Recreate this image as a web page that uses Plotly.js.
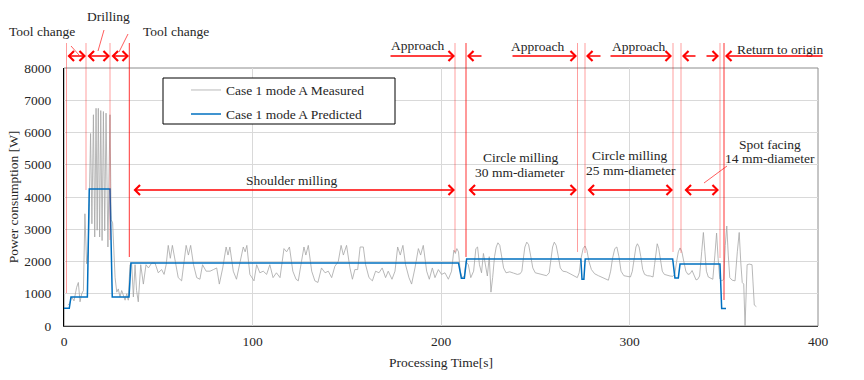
<!DOCTYPE html>
<html><head><meta charset="utf-8">
<script src="https://cdn.plot.ly/plotly-3.0.1.min.js"></script>
<style>html,body{margin:0;padding:0;background:#fff}#chart{width:864px;height:380px}
#chart text{font-family:'Liberation Serif', serif !important;}</style>
</head><body><div id="chart"></div>
<script>
// ---------------- DATA ----------------
const seriesNames = ['Case 1 mode A Measured', 'Case 1 mode A Predicted'];
const xTickValues = [0, 100, 200, 300, 400];
const yTickValues = [0, 1000, 2000, 3000, 4000, 5000, 6000, 7000, 8000];

const measuredTime = [
  2.0, 3.0, 4.1, 5.3, 6.7, 7.6, 8.5, 9.4, 10.3, 11.1, 12.0, 12.8, 13.4, 14.1, 14.8, 15.6, 16.3, 17.0, 17.6, 18.2,
  18.9, 19.5, 20.2, 20.9, 21.6, 22.3, 23.3, 24.4, 25.0, 25.8, 27.1, 28.0, 28.8, 29.7, 30.6, 31.5, 32.4, 33.3, 34.1,
  35.0, 35.9, 36.8, 37.7, 38.5, 39.4, 40.7, 42.1, 43.5, 44.8, 46.5, 48.3, 50.0, 51.8, 53.1, 54.2, 55.3, 56.4, 57.5,
  58.9, 60.6, 62.4, 63.6, 64.8, 66.0, 67.2, 68.7, 70.4, 72.1, 73.5, 75.4, 77.5, 79.3, 81.0, 82.4, 84.2, 86.0, 87.0,
  88.0, 89.8, 91.5, 93.3, 95.1, 96.1, 97.0, 98.6, 100.8, 102.2, 103.9, 105.7, 107.5, 109.2, 110.9, 112.7, 114.6,
  116.7, 118.1, 119.6, 121.4, 123.1, 124.3, 125.7, 127.3, 128.3, 129.6, 131.4, 133.1, 134.7, 136.6, 138.5, 140.2,
  142.0, 143.7, 145.5, 147.0, 148.2, 149.9, 151.7, 153.0, 154.3, 155.8, 157.1, 158.8, 160.0, 161.8, 163.6, 165.3,
  167.1, 168.8, 170.6, 172.0, 174.0, 175.6, 177.0, 178.4, 179.8, 181.2, 183.0, 184.4, 186.2, 188.0, 189.2, 190.6,
  192.4, 193.8, 195.4, 196.8, 198.6, 200.3, 202.1, 203.9, 205.6, 206.8, 207.6, 208.4, 209.3, 210.2, 211.2,
  212.4, 213.2, 214.5, 215.8, 217.3, 218.5, 219.4, 220.4, 221.5, 222.5, 223.5, 224.6, 225.6, 226.5, 227.4, 228.4,
  229.3, 230.2, 231.2, 232.2, 233.2, 234.5, 236.5, 238.5, 240.5, 242.0, 242.9, 243.7, 244.5, 245.5, 246.5, 247.5,
  248.7, 250.0, 252.0, 254.0, 256.0, 257.4, 258.3, 259.2, 260.1, 261.1, 262.1, 263.3, 264.6, 266.5, 268.5, 270.5,
  272.3, 273.3, 274.3, 275.4, 276.4, 277.4, 278.5, 279.8, 281.5, 283.5, 285.5, 287.5, 288.8, 290.0, 291.0, 292.2,
  293.3, 294.4, 295.5, 297.0, 299.0, 300.5, 301.5, 302.5, 303.4, 304.2, 305.1, 306.0, 307.0, 308.0, 309.5, 311.0,
  312.5, 313.3, 314.0, 314.7, 315.5, 316.4, 317.4, 318.5, 320.0, 321.5, 323.0, 324.0, 325.0, 325.9, 326.8, 327.8,
  328.8, 329.9, 331.0, 332.1, 333.2, 334.2, 335.3, 336.2, 337.2, 338.3, 339.2, 340.0, 340.8, 341.8, 343.0, 344.2,
  345.3, 346.2, 347.0, 347.9, 349.0, 350.0, 350.8, 351.6, 352.4, 353.2, 354.5, 356.0, 357.2, 358.2, 359.0, 359.8,
  360.6, 361.3, 362.4, 363.5, 365.0, 366.2, 367.3
];
const measuredPower = [
  650, 700, 900, 780, 1200, 1350, 750, 1000, 1100, 3480, 1930, 2300, 3800, 5970, 3170, 6550, 2760, 6750, 2970, 6750,
  2760, 6680, 2650, 6650, 2950, 6600, 2450, 6550, 3300, 3200, 1500, 1050, 1150, 900, 1100, 950, 800, 1000, 800,
  1900, 1950, 900, 1900, 1100, 750, 1900, 1300, 1900, 1800, 1950, 1950, 1650, 1750, 1600, 1900, 2500, 2100, 2500,
  2000, 1500, 1400, 1900, 2500, 2200, 2500, 1900, 1500, 1450, 1900, 1700, 1700, 1750, 1800, 1300, 1800, 2450, 2200,
  2450, 1700, 1450, 1900, 2450, 2300, 2500, 1600, 1400, 1900, 1650, 1700, 1600, 1900, 1500, 1650, 1500,
  2400, 2300, 2450, 1700, 1450, 1400, 1900, 2450, 2200, 2500, 1700, 1400, 1350, 1800, 1650, 1700,
  1500, 1850, 2000, 2500, 2200, 2500, 1800, 1450, 1750, 1750, 2450, 2450, 1900, 1500, 1400, 1700,
  1650, 1800, 1500, 1700, 1450, 1700, 2450, 2200, 2500, 1900, 1500, 1300, 1800, 2400, 2200, 2500,
  1700, 1450, 1800, 1500, 1750, 1600, 1650, 1450, 1700, 2350, 2250, 2400, 2300, 1700, 1500,
  1550, 2000, 1900, 1500, 1700, 2400, 2450, 1900, 1650, 2250, 1950, 1550, 2150, 1050, 1500, 2150,
  2450, 2580, 2500, 2200, 1800, 1650, 1680, 1640, 1600, 1620, 1700, 2100, 2450, 2600, 2520, 2200,
  1800, 1650, 1620, 1580, 1560, 1650, 2100, 2450, 2600, 2500, 2200, 1800, 1700, 1680, 1620, 1550,
  1500, 1650, 2100, 2400, 2480, 2350, 2000, 1750, 1620, 1560, 1500, 1450, 1420, 1700, 2100, 2400,
  2450, 2150, 1700, 1560, 1540, 1520, 1700, 2150, 2450, 2550, 2450, 2150, 1750, 1600, 1560, 1550,
  1520, 1900, 2350, 2550, 2400, 2050, 1700, 1600, 1570, 1550, 1540, 1600, 2000, 2300, 2420, 2300,
  2000, 1700, 1600, 1620, 1720, 1550, 1430, 1450, 1550, 2300, 2900, 2300, 1700, 1520, 1480, 1450,
  2200, 2880, 2100, 1460, 1400, 1450, 2500, 3100, 2200, 1500, 1420, 1400, 2300, 2900, 2000, 1350,
  1300, 0, 1900, 1920, 1900, 650, 600
];

const predictedTime = [0, 2.8, 3.7, 12.4, 13.4, 24.4, 25.6, 34.5, 35.5, 209.3, 210.8, 212.4, 213.6,
  274.2, 274.8, 275.8, 276.5, 322.9, 324.1, 325.9, 326.8, 348.0, 348.9, 351.2];
const predictedPower = [550, 550, 900, 900, 4250, 4250, 900, 900, 1950, 1950, 1480, 1480, 2080,
  2080, 1450, 1450, 2080, 2080, 1490, 1490, 1920, 1920, 540, 540];

// ---------------- LAYOUT HELPERS ----------------
const FONT = 'Liberation Serif';
const TXT = '#262626';
const mkFont = () => ({family:FONT, size:13.5, color:TXT});
const L = 64, R = 818, T = 68, B = 326, XMAX = 400, YMAX = 8000;
const pxX = px => (px - L) / (R - L) * XMAX;   // pixel -> data x
const pxPX = px => (px - L) / (R - L);         // pixel -> paper x
const pxPY = py => (B - py) / (B - T);         // pixel -> paper y

const PINK = 'rgba(255,0,0,0.38)', RED = 'rgba(255,0,0,0.8)';
const shapes = [];
// frame
shapes.push({type:'rect', xref:'paper', yref:'paper', x0:0, x1:1, y0:0, y1:1, line:{color:'#8c8c8c', width:1}, layer:'below'});
// vertical markers [px, bottom py, colour]
[[66.5,293,PINK],[86,190,PINK],[110,240,PINK],[129.3,257,RED],[455,252,PINK],[466,257,RED],
 [577.5,252,PINK],[585,253,PINK],[673,252,PINK],[681,253,PINK],[720,258,PINK],[724,300,RED]]
 .forEach(([px, pb, c]) => shapes.push({type:'line', xref:'x', yref:'paper', x0:pxX(px), x1:pxX(px),
   y0:pxPY(pb), y1:pxPY(43), line:{color:c, width:1}}));
// leader lines
[[71,46,79,55],[104,30,98,51],[128,34,119,52],[727,166,704,183]]
 .forEach(([a,b,c,d]) => shapes.push({type:'line', xref:'paper', yref:'paper', x0:pxPX(a), y0:pxPY(b),
   x1:pxPX(c), y1:pxPY(d), line:{color:RED, width:0.8}}));
// legend box
shapes.push({type:'rect', xref:'paper', yref:'paper', x0:pxPX(163), x1:pxPX(395), y0:pxPY(124), y1:pxPY(78),
  fillcolor:'#fff', line:{color:'#000', width:1}, layer:'above'});

const annotations = [];
const txt = (s, cx, cy) => annotations.push({xref:'paper', yref:'paper', x:pxPX(cx), y:pxPY(cy), text:s,
  showarrow:false, xanchor:'center', yanchor:'middle', font:mkFont()});
txt('Tool change', 42, 32); txt('Drilling', 108.5, 16); txt('Tool change', 175.5, 32);
txt('Approach', 417, 45); txt('Approach', 537, 46); txt('Approach', 638.5, 46); txt('Return to origin', 780, 49);
txt('Shoulder milling', 291, 180);
txt('Circle milling', 521, 157); txt('30 mm-diameter', 520, 172);
txt('Circle milling', 630, 155); txt('25 mm-diameter', 631, 170);
txt('Spot facing', 770, 144); txt('14 mm-diameter', 770, 158);

const arrow = (tail, head, py, both) => annotations.push({xref:'x', yref:'paper', x:pxX(head), y:pxPY(py),
  axref:'x', ax:pxX(tail), ayref:'pixel', ay:0, text:' ', font:{size:1}, showarrow:true,
  arrowhead:4, arrowsize:1.2, arrowwidth:1.6, arrowcolor:'#ff0000', arrowside: both ? 'end+start' : 'end',
  startarrowhead:4, startarrowsize:1.2, standoff:0, startstandoff:0});
// top arrows
arrow(66,86,56,true); arrow(86,110,56,true); arrow(110,129,56,true);
arrow(389,455,56,false); arrow(483,467,56,false);
arrow(511,577,56,false); arrow(602,586,56,false);
arrow(609,672,56,false); arrow(697,682,56,false);
arrow(705,719,56,false); arrow(824,725,56,false);
// inside arrows
arrow(132,455,190,true); arrow(467,577,190,true); arrow(586,673,190,true); arrow(683,719,190,true);

const traces = [
  {x: measuredTime, y: measuredPower, type:'scatter', mode:'lines', name: seriesNames[0], legendgroup:'a',
   line:{color:'#a6a6a6', width:0.8}},
  {x: predictedTime, y: predictedPower, type:'scatter', mode:'lines', name: seriesNames[1], legendgroup:'b',
   line:{color:'#0070c0', width:1.5}}
];

const layout = {
  width:864, height:380, margin:{l:L, r:864-R, t:T, b:380-B, pad:0},
  paper_bgcolor:'#fff', plot_bgcolor:'rgba(0,0,0,0)',
  font:mkFont(),
  xaxis:{range:[0,XMAX], tickvals:xTickValues, ticktext:xTickValues.map(String), showgrid:true, gridcolor:'#d9d9d9',
    zeroline:false, showline:true, linecolor:'#404040', linewidth:1, ticks:'outside', ticklen:3,
    tickcolor:'rgba(0,0,0,0)', tickfont:mkFont(), fixedrange:true,
    title:{text:'Processing Time[s]', font:mkFont(), standoff:9}},
  yaxis:{range:[0,YMAX], tickvals:yTickValues, ticktext:yTickValues.map(String), showgrid:true, gridcolor:'#d9d9d9',
    zeroline:false, showline:true, linecolor:'#000', linewidth:1, ticks:'outside', ticklen:9,
    tickcolor:'rgba(0,0,0,0)', tickfont:mkFont(), fixedrange:true,
    title:{text:'Power consumption [W]', font:mkFont(), standoff:2}},
  showlegend:true,
  legend:{x:pxPX(186), y:pxPY(74.7), xanchor:'left', yanchor:'top', bgcolor:'rgba(0,0,0,0)', borderwidth:0,
    font:mkFont(), tracegroupgap:3.5},
  shapes, annotations
};
Plotly.newPlot('chart', traces, layout, {displayModeBar:false, staticPlot:true});
</script></body></html>
